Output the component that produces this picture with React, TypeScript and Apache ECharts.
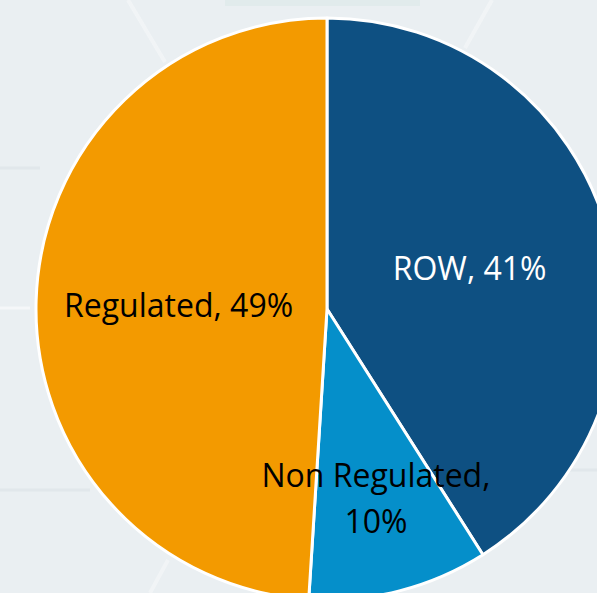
import React, { useEffect, useRef } from "react";
import * as echarts from "echarts";

const categories = ["ROW", "Non Regulated", "Regulated"];
const shares = [41, 10, 49];
const colors = ["#0E5082", "#058FCA", "#F39A00"];
const labelColors = ["#FFFFFF", "#000000", "#000000"];

export default function App() {
  const ref = useRef<HTMLDivElement>(null);
  useEffect(() => {
    if (!ref.current) return;
    const chart = echarts.init(ref.current, undefined, { renderer: "svg" });
    const faint = { stroke: "rgba(255,255,255,0.35)", lineWidth: 4 };
    const band = { stroke: "rgba(215,224,228,0.5)", lineWidth: 3 };
    chart.setOption({
      animation: false,
      backgroundColor: "#EAEFF2",
      graphic: [
        { type: "line", shape: { x1: 128, y1: 0, x2: 165, y2: 62 }, style: faint, silent: true },
        { type: "line", shape: { x1: 492, y1: 0, x2: 465, y2: 48 }, style: faint, silent: true },
        { type: "line", shape: { x1: 225, y1: 3, x2: 420, y2: 3 }, style: { stroke: "rgba(215,230,228,0.45)", lineWidth: 6 }, silent: true },
        { type: "line", shape: { x1: 0, y1: 168, x2: 40, y2: 168 }, style: band, silent: true },
        { type: "line", shape: { x1: 0, y1: 308, x2: 30, y2: 308 }, style: { stroke: "rgba(255,255,255,0.5)", lineWidth: 3 }, silent: true },
        { type: "line", shape: { x1: 0, y1: 490, x2: 90, y2: 490 }, style: band, silent: true },
        { type: "line", shape: { x1: 150, y1: 593, x2: 168, y2: 560 }, style: faint, silent: true },
        { type: "line", shape: { x1: 560, y1: 470, x2: 597, y2: 470 }, style: band, silent: true },
      ],
      series: [
        {
          type: "pie",
          center: [327, 309],
          radius: 291,
          startAngle: 90,
          clockwise: true,
          silent: true,
          itemStyle: { borderColor: "#FFFFFF", borderWidth: 3 },
          label: {
            show: true,
            position: "inside",
            fontFamily: "Open Sans",
            fontSize: 32,
            lineHeight: 46,
            formatter: (p: any) =>
              p.dataIndex === 1 ? `${p.name},\n${p.value}%` : `${p.name}, ${p.value}%`,
          },
          labelLine: { show: false },
          labelLayout: (params: any) =>
            params.dataIndex === 1 ? { dx: 12, dy: 45 } : {},
          data: categories.map((name, i) => ({
            name,
            value: shares[i],
            itemStyle: { color: colors[i] },
            label: { color: labelColors[i] },
          })),
        },
      ],
    });
    return () => chart.dispose();
  }, []);
  return (
    <div
      ref={ref}
      style={{ position: "fixed", left: 0, top: 0, width: 597, height: 593 }}
    />
  );
}
